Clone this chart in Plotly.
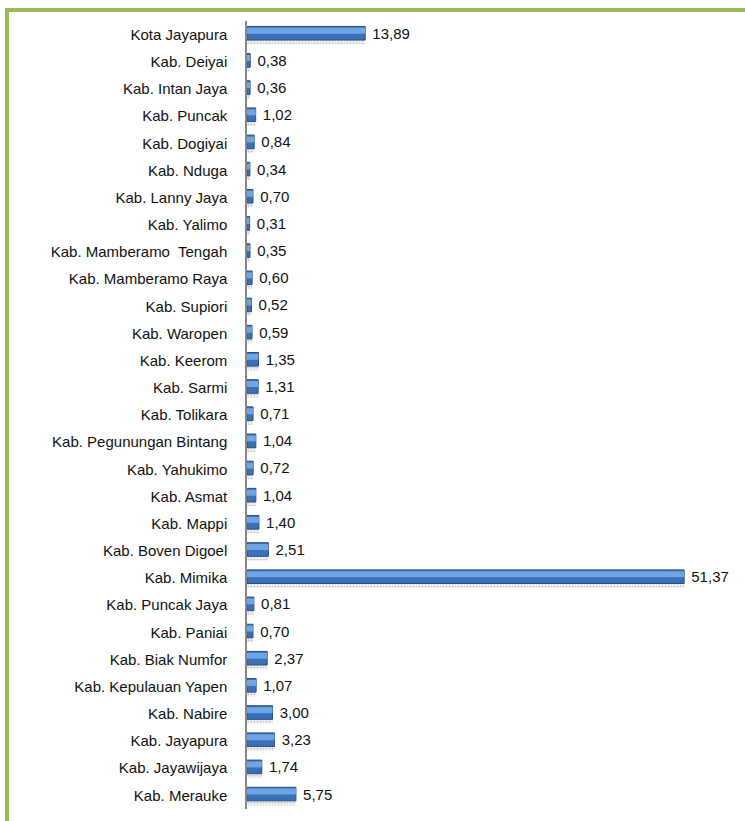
import plotly.graph_objects as go

# categories, top to bottom as in the picture
regions = [
    "Kota Jayapura", "Kab. Deiyai", "Kab. Intan Jaya", "Kab. Puncak", "Kab. Dogiyai",
    "Kab. Nduga", "Kab. Lanny Jaya", "Kab. Yalimo", "Kab. Mamberamo  Tengah",
    "Kab. Mamberamo Raya", "Kab. Supiori", "Kab. Waropen", "Kab. Keerom", "Kab. Sarmi",
    "Kab. Tolikara", "Kab. Pegunungan Bintang", "Kab. Yahukimo", "Kab. Asmat",
    "Kab. Mappi", "Kab. Boven Digoel", "Kab. Mimika", "Kab. Puncak Jaya", "Kab. Paniai",
    "Kab. Biak Numfor", "Kab. Kepulauan Yapen", "Kab. Nabire", "Kab. Jayapura",
    "Kab. Jayawijaya", "Kab. Merauke",
]
values = [
    13.89, 0.38, 0.36, 1.02, 0.84, 0.34, 0.70, 0.31, 0.35, 0.60, 0.52, 0.59, 1.35,
    1.31, 0.71, 1.04, 0.72, 1.04, 1.40, 2.51, 51.37, 0.81, 0.70, 2.37, 1.07, 3.00,
    3.23, 1.74, 5.75,
]
labels = [" " + f"{v:.2f}".replace(".", ",") for v in values]

font = "Liberation Sans, Arial"

fig = go.Figure()

# dotted grey shadow under each bar
fig.add_trace(
    go.Bar(
        x=values, y=regions, orientation="h",
        width=0.5, offset=-0.14,
        marker=dict(
            color="white",
            line_width=0,
            pattern=dict(shape=".", fgcolor="#9A9A9A", bgcolor="white", size=3, solidity=0.5),
        ),
        hoverinfo="skip", showlegend=False,
    )
)

# main bar
fig.add_trace(
    go.Bar(
        x=values, y=regions, orientation="h",
        width=0.5, offset=-0.3,
        marker=dict(color="#3A70B8", line=dict(color="#2A4F80", width=1)),
        text=labels,
        textposition="outside",
        constraintext="none",
        cliponaxis=False,
        textfont=dict(family=font, size=15, color="#111111"),
        showlegend=False,
    )
)

# light highlight on the upper part of each bar
fig.add_trace(
    go.Bar(
        x=values, y=regions, orientation="h",
        width=0.22, offset=-0.25,
        marker=dict(color="#6FA5E4", line_width=0),
        hoverinfo="skip", showlegend=False,
    )
)

# green frame on top and left
green = "#9BBB59"
fig.add_shape(type="line", xref="paper", yref="paper",
              x0=-0.5128, x1=1.07, y0=1.0140, y1=1.0140,
              line=dict(color=green, width=4))
fig.add_shape(type="line", xref="paper", yref="paper",
              x0=-0.5128, x1=-0.5128, y0=1.0165, y1=-0.02,
              line=dict(color=green, width=4))

fig.update_layout(
    width=745,
    height=821,
    barmode="overlay",
    plot_bgcolor="white",
    paper_bgcolor="white",
    xaxis=dict(
        range=[0, 55],
        showgrid=False,
        zeroline=False,
        showticklabels=False,
        showline=False,
        automargin=False,
    ),
    yaxis=dict(
        autorange=False,
        range=[len(regions) - 0.5, -0.5],
        showgrid=False,
        showline=True,
        linecolor="#868686",
        linewidth=1.5,
        ticks="",
        automargin=False,
        ticklabelstandoff=15,
        tickfont=dict(family=font, size=15, color="#111111"),
    ),
    margin=dict(l=247, r=30, t=21, b=12),
)

fig.write_html(
    "out.html",
    config={"displayModeBar": False},
    post_script="document.body.style.margin='0';",
)
